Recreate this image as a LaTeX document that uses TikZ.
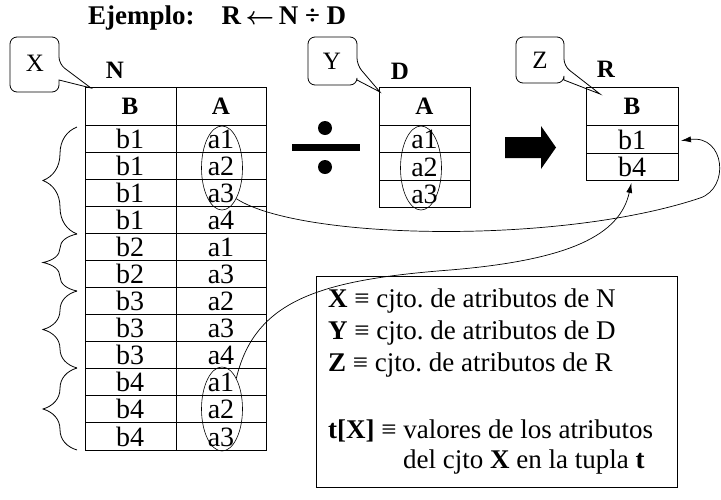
\documentclass[tikz,border=0pt]{standalone}
\usepackage{fontspec}
\setmainfont{Liberation Serif}
\usetikzlibrary{shapes.geometric,decorations.pathreplacing,arrows.meta}
\frenchspacing
\begin{document}
\begin{tikzpicture}[x=1pt,y=-1pt,
  cell/.style={inner sep=0pt,anchor=base,font=\fontsize{28}{28}\selectfont},
  head/.style={inner sep=0pt,font=\fontsize{25}{25}\selectfont\bfseries},
  lbl/.style={inner sep=0pt,font=\fontsize{25}{25}\selectfont\bfseries},
  ctext/.style={inner sep=0pt,font=\fontsize{25}{25}\selectfont},
  txt/.style={inner sep=0pt,anchor=base west,font=\fontsize{27}{27}\selectfont},
  grid/.style={line width=1pt},
  oval/.style={draw,ellipse,line width=0.6pt,minimum width=41pt,minimum height=84pt,inner sep=0pt},
  link/.style={line width=0.7pt,-{Latex[length=10pt,width=6pt]},shorten >=3pt},
  callout/.style={line width=0.8pt},
  brc/.style={decorate,decoration={brace,amplitude=34pt},line width=0.8pt}
]
\useasboundingbox (0,0) rectangle (721,499);

% title
\node[inner sep=0pt,anchor=west,font=\fontsize{27}{27}\selectfont\bfseries\boldmath] (title) at (88,18) {Ejemplo:\quad R\,$\leftarrow$\,N ÷ D};

% ---------- table N ----------
\node[lbl] (lN) at (115,70) {N};
\draw[grid] (85,87) rectangle (266,450);
\draw[grid] (176,87) -- (176,450);
\foreach \i in {0,...,11} \draw[grid] (85,{125+\i*27.083}) -- (266,{125+\i*27.083});
\node[head] (nB) at (130,106) {B};
\node[head] (nA) at (221,106) {A};
\foreach \b/\a [count=\i from 1] in {b1/a1,b1/a2,b1/a3,b1/a4,b2/a1,b2/a3,b3/a2,b3/a3,b3/a4,b4/a1,b4/a2,b4/a3}{
  \node[cell] (nb\i) at (130,{125+\i*27.083-4}) {\b};
  \node[cell] (na\i) at (221,{125+\i*27.083-4}) {\a};
}
\node[oval] (e1) at (222,168) {};
\node[oval] (e2) at (222,409) {};

% braces
\draw[brc] (77,234) -- (77,127);
\draw[brc] (77,291) -- (77,234);
\draw[brc] (77,368) -- (77,291);
\draw[brc] (77,450) -- (77,368);

% ---------- division sign ----------
\fill (292,144) rectangle (360,151);
\fill (325,128) circle (7pt);
\fill (325,167) circle (7pt);

% ---------- table D ----------
\node[lbl] (lD) at (400,71) {D};
\draw[grid] (379,87) rectangle (470,207);
\foreach \y in {125,152,180} \draw[grid] (379,\y) -- (470,\y);
\node[head] (dA) at (424.5,106) {A};
\foreach \a/\y [count=\i] in {a1/152,a2/180,a3/207}{
  \node[cell] (da\i) at (424.5,\y-4) {\a};
}
\node[oval] (e3) at (421,168) {};

% ---------- big arrow ----------
\fill (505,137) -- (541,137) -- (541,126) -- (556,147.5) -- (541,169) -- (541,158) -- (505,158) -- cycle;

% ---------- table R ----------
\node[lbl] (lR) at (606,69) {R};
\draw[grid] (586,87) rectangle (678,180);
\foreach \y in {125,153} \draw[grid] (586,\y) -- (678,\y);
\node[head] (rB) at (632,106) {B};
\node[cell] (rb1) at (632,149) {b1};
\node[cell] (rb4) at (632,176.5) {b4};
\coordinate (rb1e) at (678,141);
\coordinate (rb4s) at (632,180);

% ---------- callouts ----------
\draw[callout,rounded corners=7pt] (10,37) -- (59,37) -- (59,64) [sharp corners] -- (91,88) -- (59,80) [rounded corners=7pt] -- (59,92) -- (10,92) -- cycle;
\node[ctext] (cX) at (35,63) {X};
\draw[callout,rounded corners=7pt] (308,37) -- (357,37) -- (357,65) [sharp corners] -- (380,92) -- (357,80) [rounded corners=7pt] -- (357,85) -- (308,85) -- cycle;
\node[ctext] (cY) at (332,61) {Y};
\draw[callout,rounded corners=7pt] (516,37) -- (564,37) -- (564,66) [sharp corners] -- (600,94) -- (564,80) [rounded corners=7pt] -- (564,83) -- (516,83) -- cycle;
\node[ctext] (cZ) at (540,60) {Z};

% ---------- links ----------
\draw[link] (e1.-65) .. controls (300,240) and (560,245) .. (700,198) .. controls (730,188) and (725,135) .. (rb1e);
\draw[link] (e2.65) .. controls (255,300) and (320,280) .. (450,270) .. controls (570,260) and (620,235) .. (rb4s);

% ---------- legend box ----------
\node[draw,line width=0.8pt,minimum width=361pt,minimum height=211pt,inner sep=0pt] (box) at (496.5,381.5) {};
\node[txt] (l1) at (328,307) {\textbf{X} ≡ cjto. de atributos de N};
\node[txt] (l2) at (328,339) {\textbf{Y} ≡ cjto. de atributos de D};
\node[txt] (l3) at (328,371) {\textbf{Z} ≡ cjto. de atributos de R};
\node[txt] (l4) at (328,438) {\textbf{t[X]} ≡ valores de los atributos};
\node[txt] (l5) at (403,468) {del cjto \textbf{X} en la tupla \textbf{t}};
\end{tikzpicture}
\end{document}
